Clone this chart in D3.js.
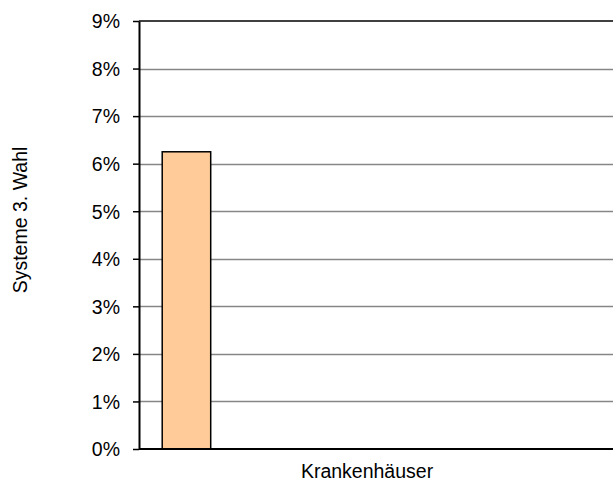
<!DOCTYPE html>
<html>
<head>
<meta charset="utf-8">
<script src="https://cdnjs.cloudflare.com/ajax/libs/d3/7.8.5/d3.min.js"></script>
<style>
  body { margin: 0; background: #fff; }
  svg text { font-family: "Liberation Sans", Arial, sans-serif; fill: #000; }
</style>
</head>
<body>
<svg id="chart" width="613" height="484"></svg>
<script>
const categories = ['Krankenhäuser'];
// one visible series; the other slots of the cluster hold no bar
const seriesSlots = ['s1', 's2', 's3', 's4', 's5', 's6', 's7', 's8'];
const seriesValues = [{ category: 'Krankenhäuser', slot: 's1', value: 0.0625 }];
const yTicks = [0, 0.01, 0.02, 0.03, 0.04, 0.05, 0.06, 0.07, 0.08, 0.09];
const yTitle = 'Systeme 3. Wahl';

const svg = d3.select('#chart');
const margin = { left: 139, top: 21, bottom: 35 };
const height = 484 - margin.top - margin.bottom;
const plotRight = 640;
const fontSize = '19.5px';

const x = d3.scaleBand()
  .domain(categories)
  .range([margin.left, 595]);

const xInner = d3.scaleBand()
  .domain(seriesSlots)
  .range([0, x.bandwidth()])
  .paddingInner(0.06)
  .paddingOuter(0.45);

const y = d3.scaleLinear()
  .domain([0, 0.09])
  .range([margin.top + height, margin.top]);

// gridlines
svg.append('g')
  .attr('class', 'grid')
  .selectAll('line')
  .data(yTicks.filter((d) => d > 0 && d < 0.09))
  .join('line')
  .attr('x1', margin.left)
  .attr('x2', plotRight)
  .attr('y1', (d) => Math.round(y(d)) + 0.5)
  .attr('y2', (d) => Math.round(y(d)) + 0.5)
  .attr('stroke', '#868686')
  .attr('stroke-width', 1.5);

// top border of plot area
svg.append('line')
  .attr('x1', margin.left)
  .attr('x2', plotRight)
  .attr('y1', y(0.09))
  .attr('y2', y(0.09))
  .attr('stroke', '#000')
  .attr('stroke-width', 1.5);

// bars
svg.append('g')
  .selectAll('rect')
  .data(seriesValues)
  .join('rect')
  .attr('x', (d) => x(d.category) + xInner(d.slot))
  .attr('width', xInner.bandwidth())
  .attr('y', (d) => y(d.value))
  .attr('height', (d) => y(0) - y(d.value))
  .attr('fill', '#FFCC99')
  .attr('stroke', '#000')
  .attr('stroke-width', 1.5);

// y axis
const yAxis = d3.axisLeft(y)
  .tickValues(yTicks)
  .tickFormat(d3.format('.0%'))
  .tickSizeInner(6)
  .tickSizeOuter(0)
  .tickPadding(13);

const yg = svg.append('g')
  .attr('transform', `translate(${margin.left},0)`)
  .call(yAxis);
yg.attr('font-size', null).attr('font-family', null);
yg.select('.domain').attr('stroke', '#000').attr('stroke-width', 2);
yg.selectAll('.tick line').attr('stroke', '#000').attr('stroke-width', 1.5);
yg.selectAll('.tick text')
  .style('font-size', fontSize)
  .attr('dy', '0.35em');

// x axis
const xAxis = d3.axisBottom(x)
  .tickSize(0)
  .tickPadding(15);
const xg = svg.append('g')
  .attr('transform', `translate(0,${y(0)})`)
  .call(xAxis);
xg.attr('font-size', null).attr('font-family', null);
xg.select('.domain').remove();
xg.append('line')
  .attr('x1', margin.left)
  .attr('x2', plotRight)
  .attr('stroke', '#000')
  .attr('stroke-width', 2);
xg.selectAll('.tick text')
  .style('font-size', fontSize);

// y title
svg.append('text')
  .attr('transform', `translate(27,220) rotate(-90)`)
  .attr('text-anchor', 'middle')
  .style('font-size', fontSize)
  .text(yTitle);
</script>
</body>
</html>
